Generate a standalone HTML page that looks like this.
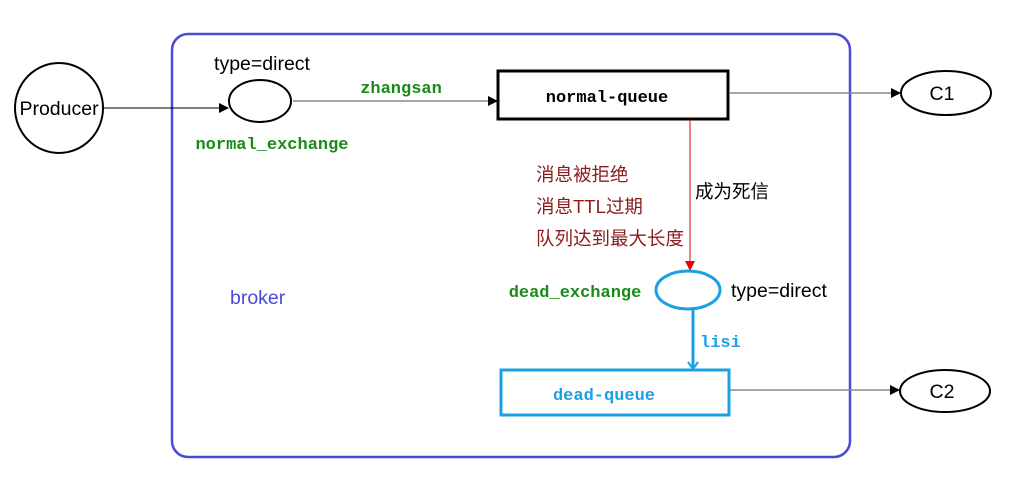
<!DOCTYPE html>
<html><head><meta charset="utf-8"><style>
html,body{margin:0;padding:0;background:#fff;width:1024px;height:482px;overflow:hidden}
svg{display:block}
.m{font-family:"Liberation Mono",monospace;font-weight:bold;font-size:17px}
.s{font-family:"Liberation Sans","Noto Sans CJK SC",sans-serif;font-size:19.5px}
.c{font-family:"Liberation Sans","Noto Sans CJK SC",sans-serif;font-size:18.5px}
</style></head><body>
<svg width="1024" height="482" viewBox="0 0 1024 482" xmlns="http://www.w3.org/2000/svg">
<defs>
<marker id="ab" markerWidth="10" markerHeight="10" refX="9" refY="5" orient="auto" markerUnits="userSpaceOnUse"><path d="M0,0 L10,5 L0,10 z" fill="#000"/></marker>
<marker id="ar" markerWidth="10" markerHeight="10" refX="5" refY="9" orient="0" markerUnits="userSpaceOnUse"><path d="M0,0 L10,0 L5,10 z" fill="#e00"/></marker>
</defs>
<rect x="172" y="34" width="678" height="423" rx="16" fill="none" stroke="#4a4ad8" stroke-width="2.5"/>
<ellipse cx="59" cy="108" rx="44" ry="45" fill="none" stroke="#000" stroke-width="2"/>
<text x="59" y="115" class="s" text-anchor="middle" font-size="20">Producer</text>
<line x1="104" y1="108" x2="228" y2="108" stroke="#000" stroke-width="1" marker-end="url(#ab)"/>
<ellipse cx="260" cy="101" rx="31" ry="21" fill="none" stroke="#000" stroke-width="2"/>
<text x="262" y="70" class="s" text-anchor="middle">type=direct</text>
<text x="272" y="149" class="m" fill="#1a8a1a" text-anchor="middle">normal_exchange</text>
<line x1="293" y1="101" x2="497" y2="101" stroke="#888" stroke-width="1.5" marker-end="url(#ab)"/>
<text x="401" y="93" class="m" fill="#1a8a1a" text-anchor="middle">zhangsan</text>
<rect x="498" y="71" width="230" height="48" fill="#fff" stroke="#000" stroke-width="3"/>
<text x="607" y="102" class="m" fill="#000" text-anchor="middle">normal-queue</text>
<line x1="729" y1="93" x2="900" y2="93" stroke="#888" stroke-width="1.5" marker-end="url(#ab)"/>
<ellipse cx="946" cy="93" rx="45" ry="22" fill="none" stroke="#000" stroke-width="2"/>
<text x="942" y="100" class="s" text-anchor="middle" font-size="19">C1</text>
<line x1="690" y1="120" x2="690" y2="270" stroke="#e00" stroke-width="1" marker-end="url(#ar)"/>
<text x="695" y="198" class="c">成为死信</text>
<text x="536" y="181" class="c" fill="#8b1c1c">消息被拒绝</text>
<text x="536" y="213" class="c" fill="#8b1c1c">消息TTL过期</text>
<text x="536" y="245" class="c" fill="#8b1c1c">队列达到最大长度</text>
<ellipse cx="688" cy="290" rx="32" ry="19" fill="none" stroke="#1ba1e2" stroke-width="3"/>
<text x="731" y="297" class="s">type=direct</text>
<text x="575" y="297" class="m" fill="#1a8a1a" text-anchor="middle">dead_exchange</text>
<text x="230" y="304" class="s" fill="#4a4ad8" font-size="18.5">broker</text>
<line x1="693" y1="309" x2="693" y2="370" stroke="#1ba1e2" stroke-width="3"/>
<path d="M688,362 L693,369 L698,362" fill="none" stroke="#1ba1e2" stroke-width="2"/>
<text x="700" y="347" class="m" fill="#1ba1e2">lisi</text>
<rect x="501" y="370" width="228" height="45" fill="#fff" stroke="#1ba1e2" stroke-width="3"/>
<text x="604" y="400" class="m" fill="#1ba1e2" text-anchor="middle">dead-queue</text>
<line x1="730" y1="390" x2="899" y2="390" stroke="#888" stroke-width="1.5" marker-end="url(#ab)"/>
<ellipse cx="945" cy="391" rx="45" ry="21" fill="none" stroke="#000" stroke-width="2"/>
<text x="942" y="398" class="s" text-anchor="middle" font-size="19">C2</text>
</svg>
</body></html>
